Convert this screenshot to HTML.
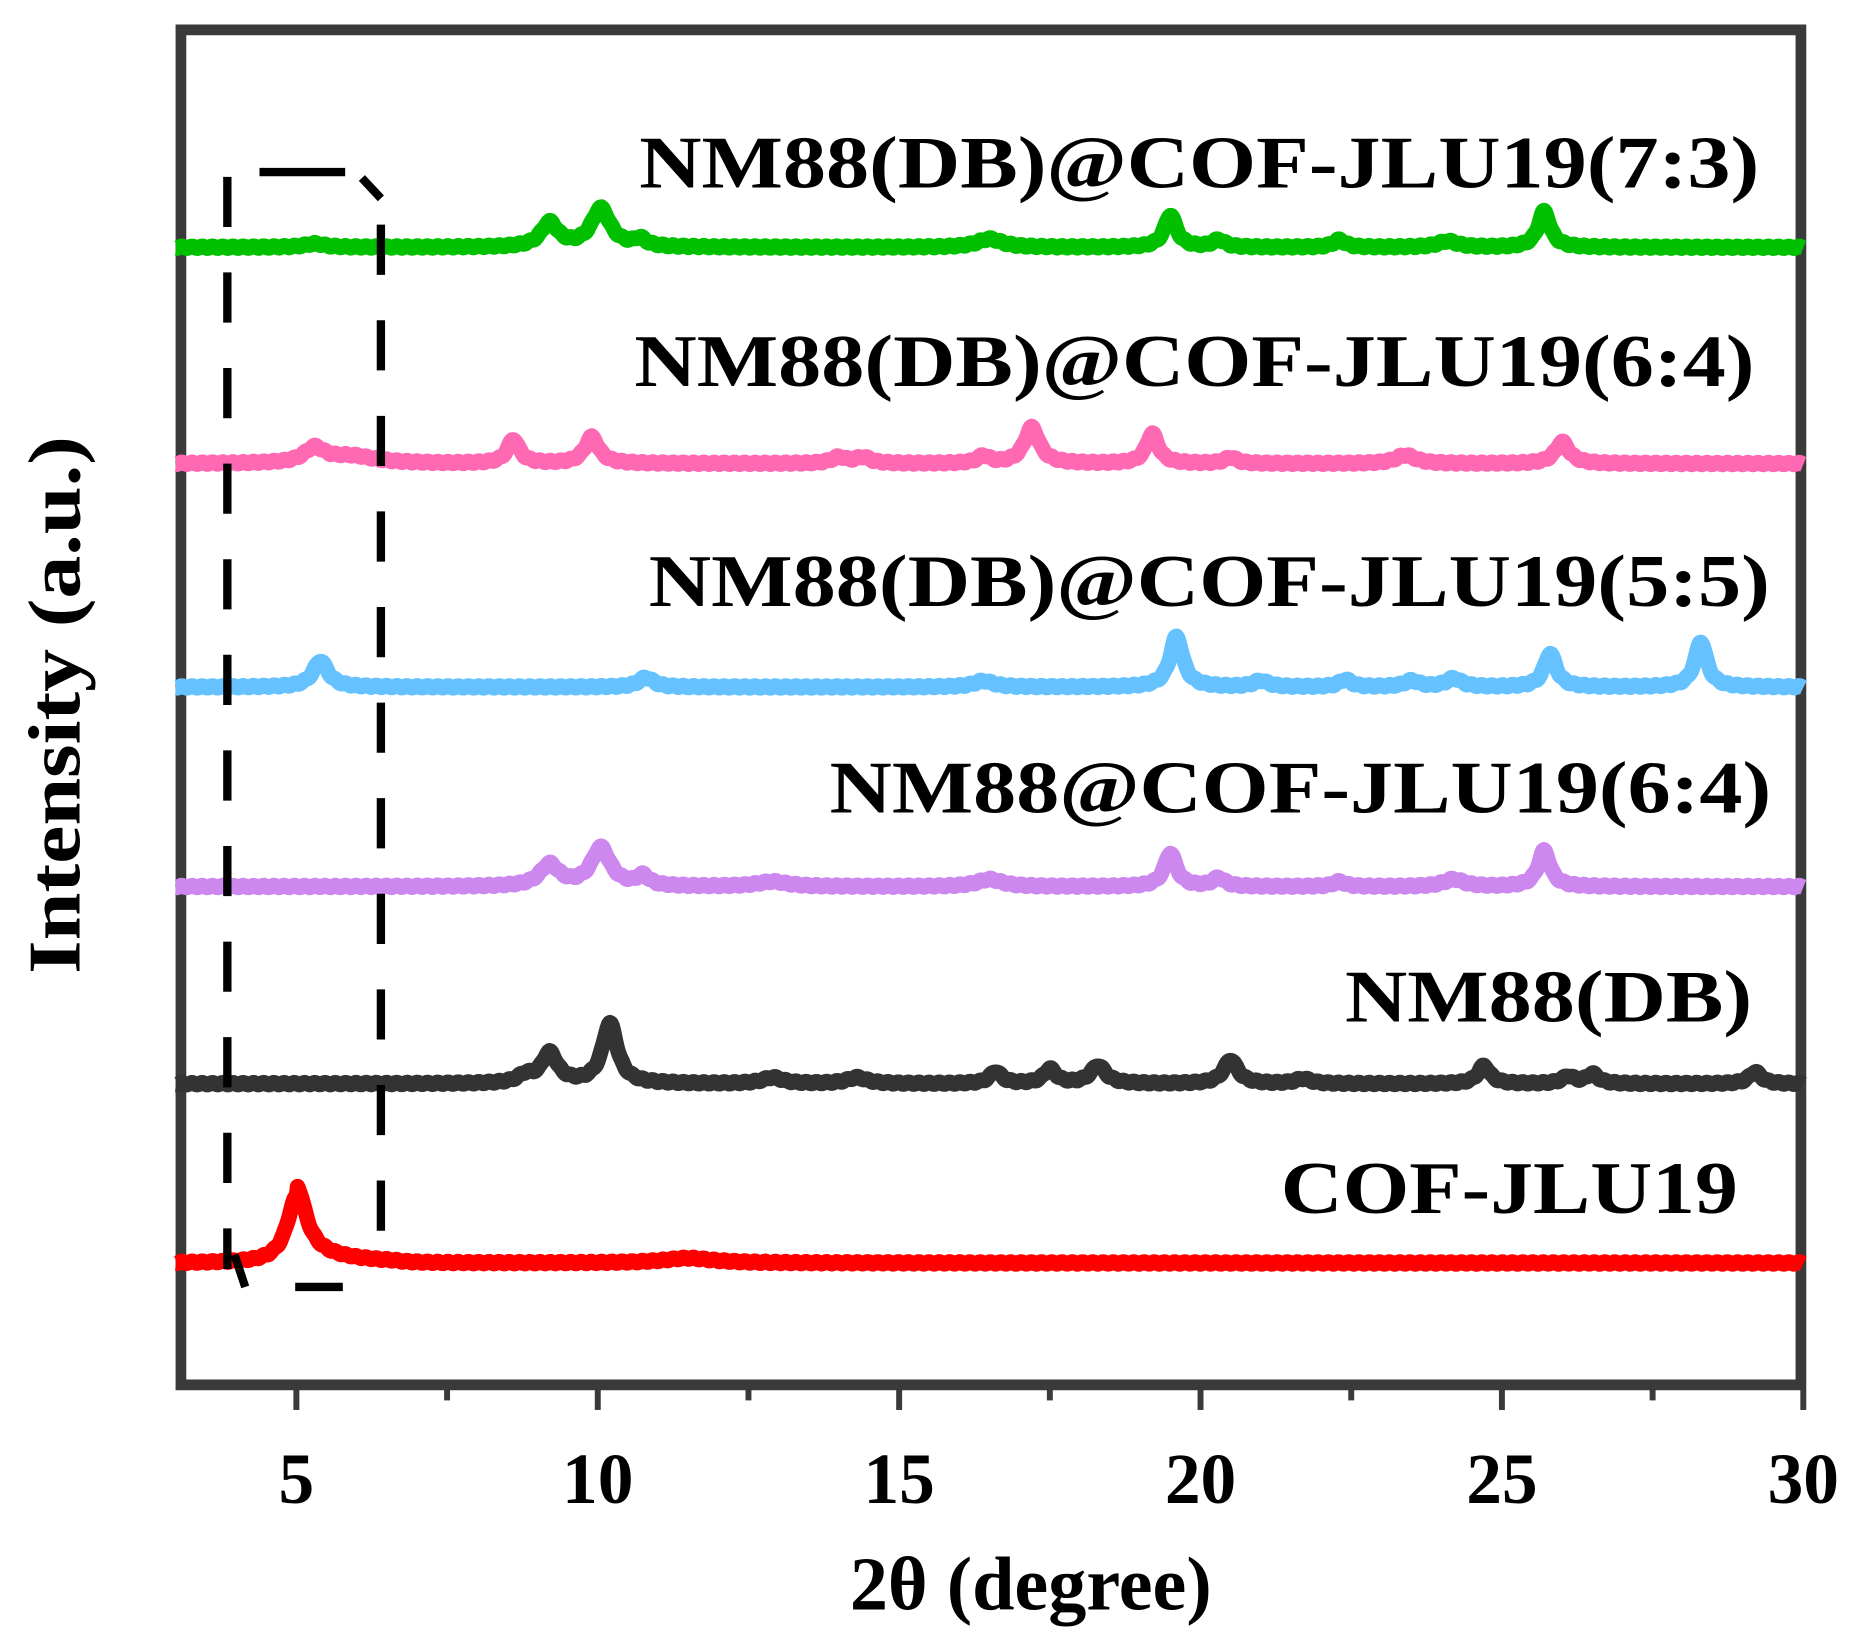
<!DOCTYPE html>
<html><head><meta charset="utf-8"><style>
html,body{margin:0;padding:0;background:#fff}
svg{display:block}
text{font-family:"Liberation Serif",serif;font-weight:bold;fill:#000}
</style></head><body>
<svg id="s" width="1864" height="1645" viewBox="0 0 1566 1376.7" preserveAspectRatio="none" xmlns="http://www.w3.org/2000/svg">
<rect x="152" y="25" width="1361" height="1134" fill="none" stroke="#3a3a3a" stroke-width="9"/>
<g id="ticks" stroke="#3a3a3a" stroke-width="5"></g>
<g id="series" fill="none" stroke-width="13" stroke-linejoin="round" stroke-linecap="butt"></g>
<g stroke="#000" stroke-width="7" fill="none">
<line x1="191" y1="148" x2="191" y2="1062" stroke-dasharray="42 38"/>
<line x1="320" y1="188" x2="320" y2="1066" stroke-dasharray="42 38"/>
<line x1="218" y1="144" x2="290" y2="144"/>
<line x1="304" y1="149" x2="320" y2="166"/>
<line x1="248" y1="1077" x2="288" y2="1077"/>
<line x1="197" y1="1050" x2="206" y2="1077"/>
</g>
<g font-size="62" text-anchor="end">
<text x="1478" y="157" textLength="941" lengthAdjust="spacingAndGlyphs">NM88(DB)@COF-JLU19(7:3)</text>
<text x="1474" y="323" textLength="941" lengthAdjust="spacingAndGlyphs">NM88(DB)@COF-JLU19(6:4)</text>
<text x="1487" y="507" textLength="942" lengthAdjust="spacingAndGlyphs">NM88(DB)@COF-JLU19(5:5)</text>
<text x="1488" y="680" textLength="791" lengthAdjust="spacingAndGlyphs">NM88@COF-JLU19(6:4)</text>
<text x="1472" y="855" textLength="342" lengthAdjust="spacingAndGlyphs">NM88(DB)</text>
<text x="1460" y="1015" textLength="384" lengthAdjust="spacingAndGlyphs">COF-JLU19</text>
</g>
<g font-size="60" text-anchor="middle" id="tl"></g>
<text x="866" y="1347" font-size="64" text-anchor="middle">2θ (degree)</text>
<text transform="translate(67,590) rotate(-90)" font-size="62" text-anchor="middle" textLength="450" lengthAdjust="spacingAndGlyphs">Intensity (a.u.)</text>
</svg>
<script>
var NS="http://www.w3.org/2000/svg";
function X(d){return 249+(d-5)*50.64;}
var tk=document.getElementById("ticks"),tl=document.getElementById("tl");
for(var d=5;d<=30;d+=2.5){var l=document.createElementNS(NS,"line");var x=X(d);
l.setAttribute("x1",x);l.setAttribute("x2",x);l.setAttribute("y1",1163);l.setAttribute("y2",d%5==0?1180:1172);tk.appendChild(l);
if(d%5==0){var t=document.createElementNS(NS,"text");t.setAttribute("x",x);t.setAttribute("y",1258);t.textContent=d;tl.appendChild(t);}}
var S=[
["#00c000",207,[[9.2,20,.17],[10.05,32,.19],[10.7,6,.12],[16.5,7,.25],[19.5,27,.12],[20.3,6,.12],[22.3,6,.12],[24.1,5,.2],[25.7,30,.12],[5.3,3,.2]]],
["#ff69b4",388,[[5.3,12,.2],[5.9,6,.5],[8.6,20,.12],[9.9,22,.14],[14,5,.15],[14.4,5,.15],[16.4,6,.12],[17.2,30,.15],[19.2,25,.12],[20.5,5,.12],[23.4,7,.2],[26,18,.14]]],
["#66c2ff",575,[[5.4,22,.15],[10.8,8,.15],[16.4,5,.2],[19.6,42,.13],[21,5,.15],[22.4,6,.12],[23.5,5,.15],[24.2,7,.15],[25.8,28,.12],[28.3,38,.12]]],
["#cc88ee",742,[[9.2,18,.19],[10.05,32,.19],[10.75,8,.12],[12.9,4,.3],[16.5,6,.25],[19.5,28,.12],[20.3,7,.12],[22.3,4,.12],[24.2,6,.2],[25.7,30,.12]]],
["#333333",907,[[8.8,6,.15],[9.2,25,.16],[10.2,50,.15],[12.9,5,.2],[14.3,5,.2],[16.6,10,.12],[17.5,12,.12],[18.3,15,.15],[20.5,20,.14],[21.7,4,.15],[24.7,15,.12],[26.1,6,.12],[26.5,8,.12],[29.2,10,.12]]],
["#ff0000",1057,[[5.0,55,.19],[11.5,4,.5]]]
];
var g=document.getElementById("series");
S.forEach(function(s){var p="";for(var d=3.0;d<=30.0;d+=0.02){var y=0;
s[2].forEach(function(k){var w=k[2];y+=k[1]/(1+Math.pow((d-k[0])/w,2));});
if(s[0]=="#ff0000"&&d>5)y+=10*Math.exp(-(d-5)/0.9)*(d<6.6?1:Math.exp(-(d-6.6)*3));
y+=Math.sin(d*37)*0.8;
p+=(p?"L":"M")+X(d).toFixed(1)+","+(s[1]-y).toFixed(1);}
var e=document.createElementNS(NS,"path");e.setAttribute("d",p);e.setAttribute("stroke",s[0]);g.appendChild(e);});
</script>
</body></html>
